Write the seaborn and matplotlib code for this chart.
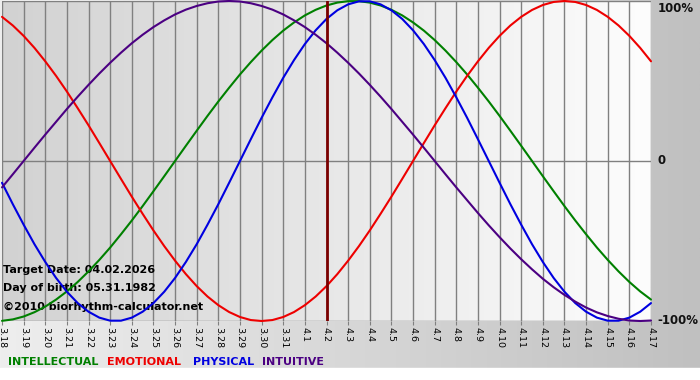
import numpy as np
import pandas as pd
import matplotlib
matplotlib.use("Agg")
import matplotlib.pyplot as plt
from matplotlib.colors import LinearSegmentedColormap
import seaborn as sns

# Days shown on the x axis (3.18 .. 4.17)
day_labels = ["3.18", "3.19", "3.20", "3.21", "3.22", "3.23", "3.24", "3.25",
              "3.26", "3.27", "3.28", "3.29", "3.30", "3.31", "4.1", "4.2",
              "4.3", "4.4", "4.5", "4.6", "4.7", "4.8", "4.9", "4.10", "4.11",
              "4.12", "4.13", "4.14", "4.15", "4.16", "4.17"]
target_label = "4.2"

# Values every half day (-1 .. 1), 61 per curve
physical = [-0.136, -0.270, -0.398, -0.520, -0.631, -0.731, -0.817, -0.888, -0.942, -0.979,
            -0.998, -0.998, -0.979, -0.942, -0.888, -0.817, -0.731, -0.631, -0.520, -0.398,
            -0.270, -0.136, 0.000, 0.136, 0.270, 0.398, 0.520, 0.631, 0.731, 0.817,
            0.888, 0.942, 0.979, 0.998, 0.998, 0.979, 0.942, 0.888, 0.817, 0.731,
            0.631, 0.520, 0.398, 0.270, 0.136, 0.000, -0.136, -0.270, -0.398, -0.520,
            -0.631, -0.731, -0.817, -0.888, -0.942, -0.979, -0.998, -0.998, -0.979, -0.942,
            -0.888]
emotional = [0.901, 0.847, 0.782, 0.707, 0.623, 0.532, 0.434, 0.330, 0.223, 0.112,
             0.000, -0.112, -0.223, -0.330, -0.434, -0.532, -0.623, -0.707, -0.782, -0.847,
             -0.901, -0.944, -0.975, -0.994, -1.000, -0.994, -0.975, -0.944, -0.901, -0.847,
             -0.782, -0.707, -0.623, -0.532, -0.434, -0.330, -0.223, -0.112, 0.000, 0.112,
             0.223, 0.330, 0.434, 0.532, 0.623, 0.707, 0.782, 0.847, 0.901, 0.944,
             0.975, 0.994, 1.000, 0.994, 0.975, 0.944, 0.901, 0.847, 0.782, 0.707,
             0.623]
intellectual = [-0.999, -0.990, -0.972, -0.945, -0.910, -0.866, -0.815, -0.756, -0.690, -0.618,
                -0.541, -0.458, -0.372, -0.282, -0.189, -0.095, 0.000, 0.095, 0.189, 0.282,
                0.372, 0.458, 0.541, 0.618, 0.690, 0.756, 0.815, 0.866, 0.910, 0.945,
                0.972, 0.990, 0.999, 0.999, 0.990, 0.972, 0.945, 0.910, 0.866, 0.815,
                0.756, 0.690, 0.618, 0.541, 0.458, 0.372, 0.282, 0.189, 0.095, 0.000,
                -0.095, -0.189, -0.282, -0.372, -0.458, -0.541, -0.618, -0.690, -0.756, -0.815,
                -0.866]
intuitive = [-0.165, -0.083, 0.000, 0.083, 0.165, 0.245, 0.325, 0.402, 0.476, 0.547,
             0.614, 0.677, 0.736, 0.789, 0.837, 0.879, 0.916, 0.946, 0.969, 0.986,
             0.997, 1.000, 0.997, 0.986, 0.969, 0.946, 0.916, 0.879, 0.837, 0.789,
             0.736, 0.677, 0.614, 0.547, 0.476, 0.402, 0.325, 0.245, 0.165, 0.083,
             0.000, -0.083, -0.165, -0.245, -0.325, -0.402, -0.476, -0.547, -0.614, -0.677,
             -0.736, -0.789, -0.837, -0.879, -0.916, -0.946, -0.969, -0.986, -0.997, -1.000,
             -0.997]

series_names = ["INTELLECTUAL", "EMOTIONAL", "PHYSICAL", "INTUITIVE"]
series_colors = ["#008000", "#ee0000", "#0000e0", "#4b0082"]
info_lines = ["Target Date: 04.02.2026", "Day of birth: 05.31.1982",
              "\u00a92010 biorhythm-calculator.net"]
right_labels = ["100%", "0", "-100%"]

n = len(day_labels) - 1
steps = np.linspace(0, n, len(physical))
frames = []
for name, vals in zip(series_names, [intellectual, emotional, physical, intuitive]):
    frames.append(pd.DataFrame({"day": steps, "value": vals, "series": name}))
df = pd.concat(frames, ignore_index=True)

sns.set_style("white")
plt.rcParams["font.family"] = ["DejaVu Sans"]

W, H = 700, 380
fig = plt.figure(figsize=(W / 100, H / 100), dpi=100)

# figure background: light on the left, gray on the right, white strip at the bottom
bg = fig.add_axes([0, 0, 1, 1], zorder=-5)
bg_cmap = LinearSegmentedColormap.from_list("bg", ["#eeeeee", "#c0c0c0"])
bg.imshow(np.linspace(0, 1, 256)[None, :], extent=[0, 1, 12 / H, 1], aspect="auto",
          cmap=bg_cmap, origin="lower")
bg.axhspan(0, 12 / H, color="white")
bg.set_xlim(0, 1)
bg.set_ylim(0, 1)
bg.axis("off")

left, right, top, bottom = 2, 651, 1, 321
ax = fig.add_axes([left / W, 1 - bottom / H, (right - left) / W, (bottom - top) / H], zorder=1)
plot_cmap = LinearSegmentedColormap.from_list("plot", ["#d2d2d2", "#fdfdfd"])
ax.imshow(np.linspace(0, 1, 256)[None, :], extent=[0, n, -1, 1], aspect="auto",
          cmap=plot_cmap, zorder=0)

for x in range(len(day_labels)):
    ax.axvline(x, color="#808080", lw=1, zorder=1)
for y in [-1, 0, 1]:
    ax.axhline(y, color="#808080", lw=1, zorder=1)

ax.axvline(day_labels.index(target_label), color="#7a0000", lw=2, zorder=4)

# info text in the lower left corner
for i, line in enumerate(info_lines):
    ax.text(0.04, -0.68 - i * 0.115, line, fontsize=8.0, fontweight="bold",
            color="black", va="center", ha="left", zorder=2)

sns.lineplot(data=df, x="day", y="value", hue="series", hue_order=series_names,
             palette=series_colors, linewidth=1.5, legend=False, ax=ax, zorder=3,
             clip_on=False)

ax.set_xlim(0, n)
ax.set_ylim(-1, 1)
ax.set_xticks(range(len(day_labels)))
ax.set_xticklabels(day_labels, rotation=-90, fontsize=6.8, va="top", ha="center",
                   color="black")
ax.tick_params(axis="x", length=3, color="#808080", pad=1, bottom=True)
ax.set_yticks([])
ax.set_xlabel("")
ax.set_ylabel("")
for s in ax.spines.values():
    s.set_visible(False)

# labels on the right side
for lab, y in zip(right_labels, [0.955, 0, -1]):
    ax.text(n + 0.3, y, lab, fontsize=8.5, fontweight="bold", color="#111111",
            va="center", ha="left", clip_on=False)

# colored words along the bottom
for name, col, xpix in zip(series_names, series_colors, [8, 107, 193, 262]):
    fig.text(xpix / W, 1 - 362 / H, name, fontsize=8, fontweight="bold",
             color=col, va="center", ha="left")

fig.savefig("out.png", dpi=100)
